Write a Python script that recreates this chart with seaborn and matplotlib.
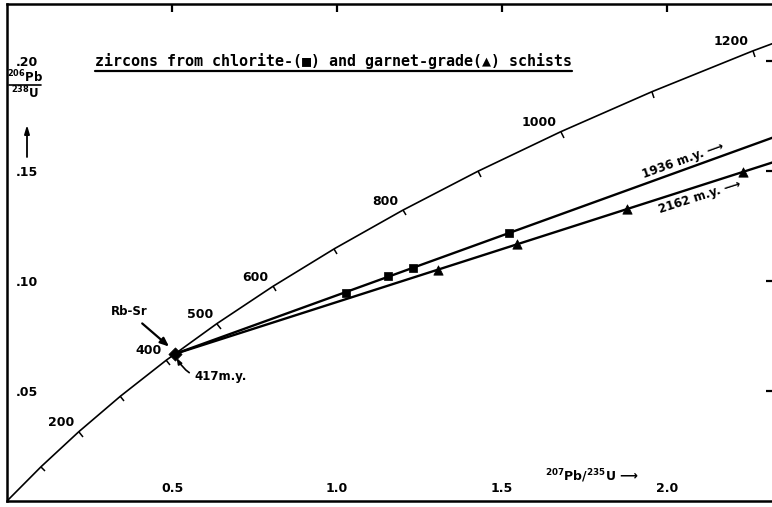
import matplotlib
matplotlib.use("Agg")
import matplotlib.pyplot as plt
import seaborn as sns
import pandas as pd
import numpy as np
from matplotlib.markers import MarkerStyle
from matplotlib.transforms import Affine2D
from matplotlib.lines import Line2D

# ---------------- data ----------------
# concordia curve (age in m.y., 207Pb/235U, 206Pb/238U)
conc_age = [0, 100, 200, 300, 400, 500, 600, 700, 800, 900, 1000, 1100, 1200, 1300]
conc_x = [0.0, 0.1035, 0.2177, 0.3437, 0.4828, 0.6362, 0.8056, 0.9924,
          1.1987, 1.4263, 1.6774, 1.9546, 2.2603, 2.5978]
conc_y = [0.0, 0.01563, 0.03151, 0.04764, 0.06402, 0.08065, 0.09754, 0.11470,
          0.13213, 0.14983, 0.16781, 0.18606, 0.20460, 0.22342]
labelled_ages = [200, 400, 500, 600, 800, 1000, 1200]

# zircon analyses
chlorite_x = [1.027, 1.155, 1.230, 1.521]
chlorite_y = [0.0945, 0.1021, 0.1060, 0.1217]
garnet_x = [1.306, 1.545, 1.879, 2.230]
garnet_y = [0.1050, 0.1166, 0.1327, 0.1496]

# discordia chords: lower intercept 417 m.y., upper intercepts 1936 / 2162 m.y.
lower_x, lower_y = [0.5078], [0.0668]
chl_chord_x = [0.5078, 5.731]
chl_chord_y = [0.0668, 0.3503]
gar_chord_x = [0.5078, 7.409]
gar_chord_y = [0.0668, 0.3985]

xticks = [0.5, 1.0, 1.5, 2.0]
xticklabels = ["0.5", "1.0", "1.5", "2.0"]
yticks = [0.05, 0.10, 0.15, 0.20]
yticklabels = [".05", ".10", ".15", ".20"]

ARROW = "\u27f6"

# ---------------- style ----------------
sns.set_style("white")
plt.rcParams["font.family"] = ["DejaVu Sans"]
plt.rcParams["font.weight"] = "bold"
plt.rcParams["text.color"] = "black"
plt.rcParams["mathtext.fontset"] = "dejavusans"
plt.rcParams["mathtext.default"] = "bf"

W, H = 772, 507
fig = plt.figure(figsize=(W / 100, H / 100), dpi=100)
x0p, x1p, y0p, y1p = 7, 774, 501, 4          # axes box in pixels (top-down y)
ax = fig.add_axes([x0p / W, (H - y0p) / H, (x1p - x0p) / W, (y0p - y1p) / H])


def axfrac(px, py):
    return (px - x0p) / (x1p - x0p), (y0p - py) / (y0p - y1p)


# concordia curve
conc = pd.DataFrame({"x": conc_x, "y": conc_y, "age": conc_age})
sns.lineplot(data=conc, x="x", y="y", sort=False, color="black", lw=1.2, ax=ax)

# discordia chords
chords = pd.DataFrame({"x": chl_chord_x + gar_chord_x,
                       "y": chl_chord_y + gar_chord_y,
                       "set": ["chl"] * 2 + ["gar"] * 2})
sns.lineplot(data=chords, x="x", y="y", units="set", estimator=None, sort=False,
             color="black", lw=1.7, ax=ax)

# data points
sns.scatterplot(x=chlorite_x, y=chlorite_y, marker="s", s=40, color="black",
                edgecolor="black", ax=ax, zorder=5)
sns.scatterplot(x=garnet_x, y=garnet_y, marker="^", s=45, color="black",
                edgecolor="black", ax=ax, zorder=5)
sns.scatterplot(x=lower_x, y=lower_y, marker="D", s=45, color="black",
                edgecolor="black", ax=ax, zorder=5)

ax.set_xlim(0, (x1p - x0p) / 330)
ax.set_ylim(0, (y0p - y1p) / 2200)
ax.set_xlabel("")
ax.set_ylabel("")

for s in ["left", "top", "bottom"]:
    ax.spines[s].set_linewidth(1.8)
    ax.spines[s].set_color("black")
ax.spines["right"].set_visible(False)

ax.set_xticks(xticks)
ax.set_xticklabels(xticklabels)
ax.set_yticks(yticks)
ax.set_yticklabels(yticklabels)
ax.tick_params(direction="in", length=6, width=1.6, top=True, right=True,
               labelsize=9, colors="black", labelcolor="black")
ax.tick_params(axis="x", pad=-14)
ax.tick_params(axis="y", pad=-22)
for lab in ax.get_xticklabels() + ax.get_yticklabels():
    lab.set_fontweight("bold")

# concordia age ticks + labels
pts = ax.transData.transform(np.column_stack([conc_x, conc_y]))
for i, age in enumerate(conc_age):
    if age == 0:
        continue
    j0, j1 = i - 1, min(i + 1, len(conc_age) - 1)
    d = pts[j1] - pts[j0]
    ang = np.degrees(np.arctan2(d[1], d[0]))
    ms = MarkerStyle(3, transform=Affine2D().rotate_deg(ang))
    ax.plot([conc_x[i]], [conc_y[i]], marker=ms, ms=4.5, mew=1.1, color="black")
    if age in labelled_ages:
        ax.annotate(str(age), xy=(conc_x[i], conc_y[i]), xytext=(-3, 2),
                    textcoords="offset points", ha="right", va="bottom",
                    fontsize=9, fontweight="bold", color="black")


# chord labels
def chord_angle(xs, ys):
    p = ax.transData.transform(np.column_stack([xs, ys]))
    d = p[1] - p[0]
    return np.degrees(np.arctan2(d[1], d[0]))


a1 = chord_angle(chl_chord_x, chl_chord_y)
a2 = chord_angle(gar_chord_x, gar_chord_y)
xc1 = 2.058
yc1 = np.interp(xc1, chl_chord_x, chl_chord_y)
ax.annotate("1936 m.y. " + ARROW, xy=(xc1, yc1),
            xytext=(-2 * np.sin(np.radians(a1)), 2 * np.cos(np.radians(a1))),
            textcoords="offset points", rotation=a1, rotation_mode="anchor",
            ha="center", va="bottom", fontsize=8.5, fontweight="bold", color="black")
xc2 = 2.088
yc2 = np.interp(xc2, gar_chord_x, gar_chord_y)
ax.annotate("2162 m.y. " + ARROW, xy=(xc2, yc2),
            xytext=(3 * np.sin(np.radians(a2)), -3 * np.cos(np.radians(a2))),
            textcoords="offset points", rotation=a2, rotation_mode="anchor",
            ha="center", va="top", fontsize=8.5, fontweight="bold", color="black")

# Rb-Sr and 417 m.y. annotations
ax.annotate("Rb-Sr", xy=(0.491, 0.0702), xytext=(-29, 25), textcoords="offset points",
            ha="center", va="center", fontsize=8.5, fontweight="bold", color="black",
            arrowprops=dict(arrowstyle="-|>,head_length=0.6,head_width=0.25",
                            lw=1.6, color="black", shrinkA=2, shrinkB=0))
ax.annotate("417m.y.", xy=(0.514, 0.0650), xytext=(32, -13), textcoords="offset points",
            ha="center", va="center", fontsize=8.5, fontweight="bold", color="black",
            arrowprops=dict(arrowstyle="-|>,head_length=0.4,head_width=0.15",
                            lw=1.2, color="black", shrinkA=2, shrinkB=0,
                            connectionstyle="arc3,rad=-0.4"))

# title (underlined)
tx, ty = axfrac(95, 66)
title = ax.text(tx, ty,
                "zircons from chlorite-(\u25a0) and garnet-grade(\u25b2) schists",
                transform=ax.transAxes, ha="left", va="baseline",
                fontsize=10.8, fontweight="bold", color="black",
                family=["DejaVu Sans Mono", "DejaVu Sans"])

# y-axis label as a stacked fraction: 206Pb over 238U
nx, ny = axfrac(25, 82)
ax.text(nx, ny, r"$^{206}$Pb", transform=ax.transAxes,
        ha="center", va="baseline", fontsize=8.5, fontweight="bold", color="black")
dx, dy = axfrac(25, 98)
ax.text(dx, dy, r"$^{238}$U", transform=ax.transAxes,
        ha="center", va="baseline", fontsize=8.5, fontweight="bold", color="black")
ax.plot([axfrac(9, 85)[0], axfrac(41, 85)[0]], [axfrac(9, 85)[1]] * 2,
        transform=ax.transAxes, color="black", lw=1.2)
ax.annotate("", xy=axfrac(27, 125), xytext=axfrac(27, 157),
            xycoords="axes fraction", textcoords="axes fraction",
            arrowprops=dict(arrowstyle="-|>,head_length=0.5,head_width=0.15",
                            lw=1.3, color="black", shrinkA=0, shrinkB=0))

# x-axis label
lx, ly = axfrac(545, 476)
ax.text(lx, ly, r"$^{207}$Pb/$^{235}$U " + ARROW, transform=ax.transAxes,
        ha="left", va="center", fontsize=9, fontweight="bold", color="black")

# underline under title
fig.canvas.draw()
bb = title.get_window_extent()
fig.add_artist(Line2D([bb.x0 / W, bb.x1 / W], [(bb.y0 - 2) / H] * 2,
                      transform=fig.transFigure, color="black", lw=1.6))

fig.savefig("out.png", dpi=100)
